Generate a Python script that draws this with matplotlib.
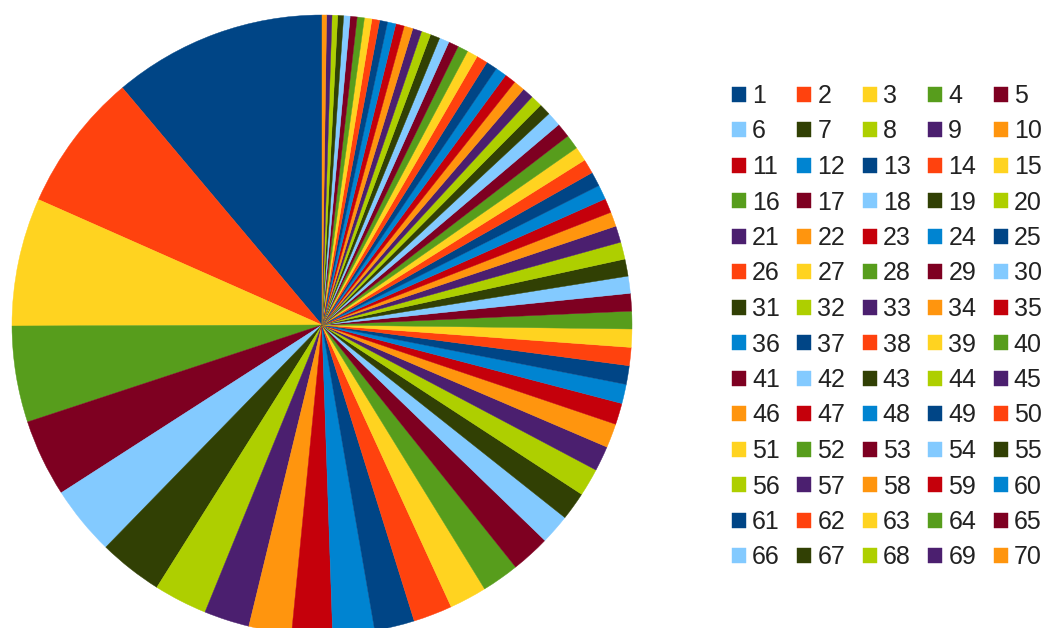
import matplotlib.pyplot as plt

# share of each of the 70 categories
labels = [str(i) for i in range(1, 71)]
values = [
    40, 26, 24, 18, 14.5, 13, 12, 10, 8.5, 8,
    7.6, 7.8, 7.5, 7.3, 7.0, 7.0, 7.3, 5.6, 5.3, 5.2,
    4.7, 4.5, 4.0, 3.6, 3.5, 3.4, 3.4, 3.3, 3.3, 3.2,
    3.2, 3.2, 3.1, 2.7, 2.7, 2.7, 2.7, 2.7, 2.7, 2.7,
    2.7, 2.7, 2.2, 2.2, 2.1, 2.1, 2.1, 2.1, 2.1, 2.1,
    2.0, 1.95, 1.9, 1.85, 1.8, 1.75, 1.7, 1.65, 1.6, 1.55,
    1.5, 1.45, 1.4, 1.35, 1.3, 1.2, 1.1, 1.05, 1.0, 0.85,
]

# default LibreOffice chart palette, repeated
palette = ["#004586", "#ff420e", "#ffd320", "#579d1c", "#7e0021", "#83caff",
           "#314004", "#aecf00", "#4b1f6f", "#ff950e", "#c5000b", "#0084d1"]
colors = [palette[i % len(palette)] for i in range(len(values))]

plt.rcParams['font.family'] = ['Liberation Sans', 'DejaVu Sans']

fig = plt.figure(figsize=(10.48, 6.28), dpi=100)
ax = fig.add_axes([12 / 1048, -7 / 628, 620 / 1048, 620 / 628])

wedges, _ = ax.pie(values, colors=colors, startangle=90, counterclock=True,
                   radius=1.0)
for w in wedges:
    w.set_edgecolor(w.get_facecolor())
    w.set_linewidth(0.3)
ax.set_xlim(-1, 1)
ax.set_ylim(-1, 1)
ax.set_aspect('equal')
ax.axis('off')

# legend reads across rows, matplotlib fills down columns -> reorder
ncol = 5
order = [i for c in range(ncol) for i in range(c, len(values), ncol)]
leg = fig.legend([wedges[i] for i in order], [labels[i] for i in order],
                 loc='upper left', bbox_to_anchor=(732 / 1048, 1 - 84 / 628),
                 ncol=ncol, frameon=False, fontsize=18,
                 handlelength=0.56, handleheight=0.56, handletextpad=0.24,
                 columnspacing=0.70, labelspacing=0.46, borderpad=0,
                 borderaxespad=0)
for t in leg.get_texts():
    t.set_color('#222222')

fig.savefig("out.png", dpi=100)
